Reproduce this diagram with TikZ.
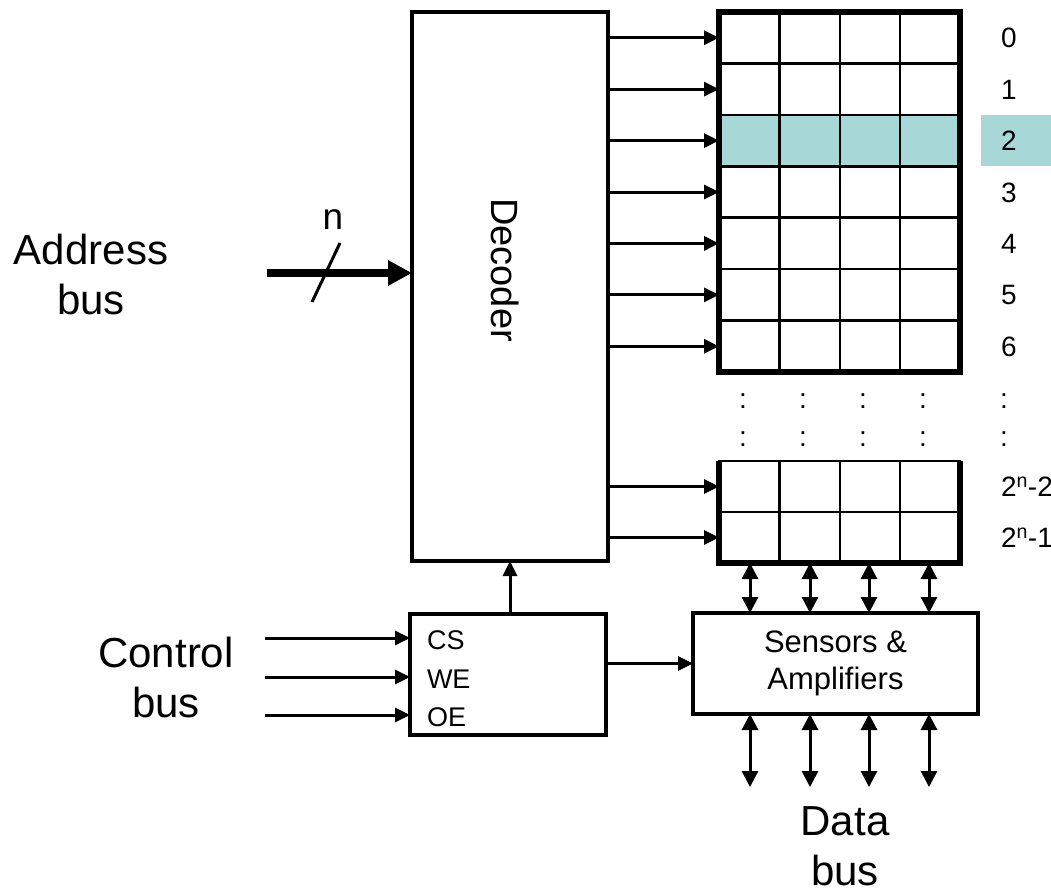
\documentclass[tikz,border=0pt]{standalone}
\usepackage{fontspec}
\setmainfont{Liberation Sans}
\usetikzlibrary{arrows.meta}
\definecolor{hl}{RGB}{168,215,215}
\begin{document}
\begin{tikzpicture}[x=1pt,y=-1pt,
  every node/.style={inner sep=0pt, outer sep=0pt},
  blk/.style={draw, line width=3.5pt, fill=white},
  cellrow/.style={draw, line width=2.5pt, minimum width=241pt, minimum height=#1},
  arr/.style={line width=3pt, -{Triangle[length=15pt 0 0,width=14pt 0 0]}},
  darr/.style={line width=3pt, {Triangle[length=16pt 0 0,width=16pt 0 0]}-{Triangle[length=16pt 0 0,width=16pt 0 0]}},
  busarr/.style={line width=8.5pt, -{Triangle[length=24pt 0 0,width=24pt 0 0]}},
  big/.style={font=\fontsize{42}{50}\selectfont, align=center},
  lbl/.style={font=\fontsize{28}{33}\selectfont, anchor=west, text height=20pt, text depth=0pt},
  sig/.style={font=\fontsize{27}{32}\selectfont, anchor=west, text height=19pt, text depth=0pt},
  dotlbl/.style={font=\fontsize{28}{33}\selectfont, anchor=base},
]
\useasboundingbox (0,0) rectangle (1051,893);

% Decoder
\node[blk, minimum width=196pt, minimum height=549pt] (dec) at (510,286.5) {};
\node[font=\fontsize{38}{45}\selectfont, rotate=-90] (declab) at (505,270) {Decoder};

% memory rows (top block)
\foreach \i/\f in {0/white,1/white,2/hl,3/white,4/white,5/white,6/white}
  \node[cellrow=51.43pt, fill=\f] (r\i) at (839.5,{12+51.43*(\i+0.5)}) {};
% memory rows (bottom block)
\node[cellrow=51pt, fill=white] (ra) at (839.5,486.5) {};
\node[cellrow=51pt, fill=white] (rb) at (839.5,537.5) {};
\foreach \x in {779.5,840,900}{
  \draw[line width=2.5pt] (\x,0 |- r0.north) -- (\x,0 |- r6.south);
  \draw[line width=2.5pt] (\x,0 |- ra.north) -- (\x,0 |- rb.south);
}
\draw[line width=5.5pt] (r0.north west) rectangle (r6.south east);
\draw[line width=5.5pt] (ra.north west) -- (rb.south west) -- (rb.south east) -- (ra.north east);

% decoder outputs
\foreach \i in {0,...,6,a,b}
  \draw[arr] (dec.east |- r\i.west) -- (r\i.west);

% row labels
\fill[hl] (981,0 |- r2.north) rectangle (1051,0 |- r2.south);
\coordinate (lx) at (1001,0);
\foreach \i/\t in {0/0,1/1,2/2,3/3,4/4,5/5,6/6,a/{2\textsuperscript{n}-2},b/{2\textsuperscript{n}-1}}
  \node[lbl] (l\i) at (r\i -| lx) {\t};

% continuation dots
\foreach \x in {743,803,863,923,1004}{
  \node[dotlbl] (dA\x) at (\x,408) {:};
  \node[dotlbl] (dB\x) at (\x,446) {:};
}

% address bus
\node[big] (addr) at (91,274) {Address\\bus};
\coordinate (abus) at (267,273);
\draw[busarr] (abus) -- (abus -| dec.west);
\coordinate (s1) at (312,302);
\coordinate (s2) at (340,243);
\draw[line width=3pt] (s1) -- (s2);
\node[font=\fontsize{37}{44}\selectfont] (nlab) at (333,220) {n};

% control
\node[blk, minimum width=196pt, minimum height=121pt] (ctrl) at (508,674.5) {};
\node[big] (cbus) at (166,677) {Control\\bus};
\coordinate (ci1) at (265,638);
\coordinate (ci2) at (265,677);
\coordinate (ci3) at (265,715);
\foreach \k in {1,2,3}{
  \draw[arr] (ci\k) -- (ci\k -| ctrl.west);
}
\node[sig] (cs) at (427,640) {CS};
\node[sig] (we) at (427,679) {WE};
\node[sig] (oe) at (427,717) {OE};
\draw[arr] (dec.south |- ctrl.north) -- (dec.south);

% sensors
\node[blk, minimum width=285pt, minimum height=101pt, font=\fontsize{31}{37}\selectfont, align=center] (sens) at (835.5,663.5) {Sensors \&\\Amplifiers};
\draw[arr] (ctrl.east |- sens.west) -- (sens.west);

\foreach \x [count=\k] in {750,810,869,929}{
  \coordinate (v\k) at (\x,0);
  \coordinate (w\k) at (\x,787);
  \draw[darr] (v\k |- rb.south) -- (v\k |- sens.north);
  \draw[darr] (w\k |- sens.south) -- (w\k);
}
\node[big] (dbus) at (845,846) {Data\\bus};
\end{tikzpicture}
\end{document}
